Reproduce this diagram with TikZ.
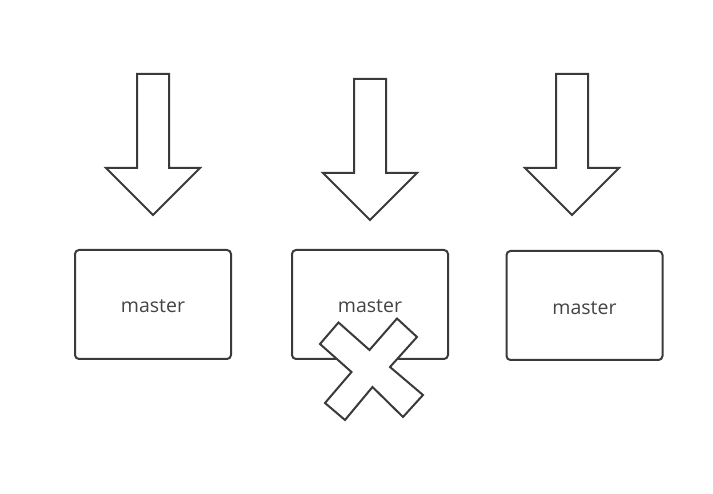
\documentclass[tikz,border=0pt]{standalone}
\usepackage{fontspec}
\setmainfont{Open Sans}
\definecolor{ln}{HTML}{3a3a3a}
\definecolor{tx}{HTML}{444444}
\begin{document}
\begin{tikzpicture}[x=1pt,y=-1pt,
  shape arrow/.style={draw=ln,fill=white,line width=2pt,line join=miter},
  mbox/.style={draw=ln,fill=white,line width=2pt,rounded corners=4pt,minimum width=156pt,minimum height=109pt,inner sep=0pt,font=\fontsize{19.5}{22}\selectfont,text=tx}]
\useasboundingbox (0,0) rectangle (713,494);
% arrows
\draw[shape arrow] (137,74) -- (169,74) -- (169,168) -- (200,168) -- (153,215) -- (106,168) -- (137,168) -- cycle;
\draw[shape arrow] (354,79) -- (386,79) -- (386,173) -- (417,173) -- (370,220) -- (323,173) -- (354,173) -- cycle;
\draw[shape arrow] (556,74) -- (588,74) -- (588,168) -- (619,168) -- (572,215) -- (525,168) -- (556,168) -- cycle;
% boxes
\node[mbox] (m1) at (153,304.5) {};
\node[mbox] (m2) at (370,304.5) {};
\node[mbox] (m3) at (584.5,305.5) {};
\node[font=\fontsize{19.5}{22}\selectfont,text=tx,inner sep=0pt] (t1) at (153,306) {master};
\node[font=\fontsize{19.5}{22}\selectfont,text=tx,inner sep=0pt] (t2) at (370,306) {master};
\node[font=\fontsize{19.5}{22}\selectfont,text=tx,inner sep=0pt] (t3) at (584.5,308) {master};
% cross
\draw[shape arrow] (320,344) -- (338.5,322.5) -- (369.5,350) -- (397,318.5) -- (417,337) -- (390,367) -- (423,395) -- (403,417) -- (372.5,387) -- (345,420) -- (325,403) -- (351.5,372) -- cycle;
\end{tikzpicture}
\end{document}
